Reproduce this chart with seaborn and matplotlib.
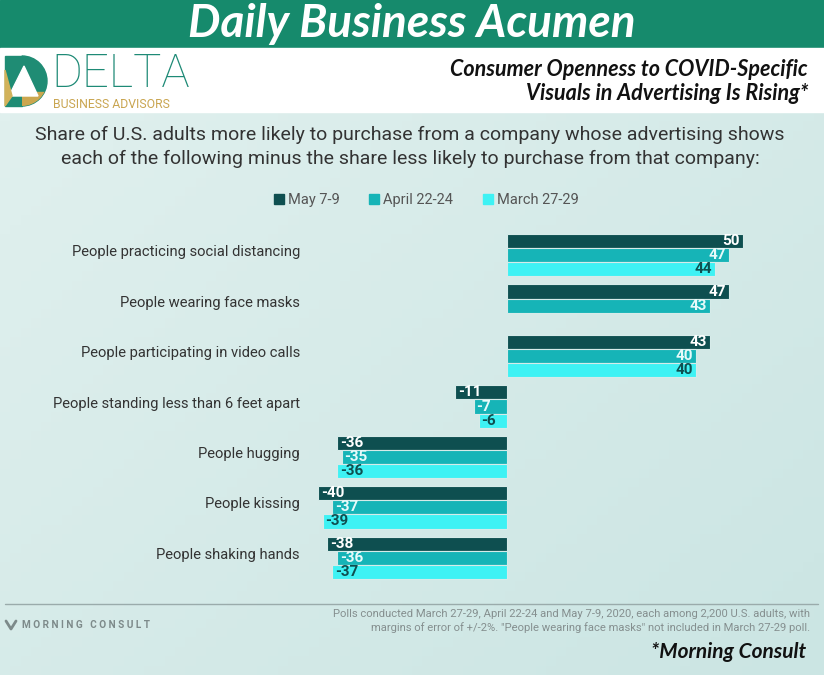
import matplotlib
matplotlib.use("Agg")
import matplotlib.pyplot as plt
import matplotlib.transforms as mtransforms
import numpy as np
import pandas as pd
import seaborn as sns
from matplotlib.lines import Line2D
from matplotlib.patches import Polygon, Rectangle, Wedge

# data
categories = [
    "People practicing social distancing",
    "People wearing face masks",
    "People participating in video calls",
    "People standing less than 6 feet apart",
    "People hugging",
    "People kissing",
    "People shaking hands",
]
periods = ["May 7-9", "April 22-24", "March 27-29"]
may = [50, 47, 43, -11, -36, -40, -38]
april = [47, 43, 40, -7, -35, -37, -36]
march = [44, np.nan, 40, -6, -36, -39, -37]

colors = {"May 7-9": "#0e4f50", "April 22-24": "#16b4b7", "March 27-29": "#3ef2f4"}
label_colors = {"May 7-9": "white", "April 22-24": "#e6fafa", "March 27-29": "#0e4f50"}

rows = []
for period, vals in zip(periods, [may, april, march]):
    for cat, v in zip(categories, vals):
        rows.append({"category": cat, "period": period, "value": v})
df = pd.DataFrame(rows)

sns.set_theme(style="white")
plt.rcParams["font.family"] = ["Roboto", "DejaVu Sans"]

W, H = 824, 675
fig = plt.figure(figsize=(W / 100, H / 100), dpi=100)

# decoration layer in pixel coordinates
deco = fig.add_axes([0, 0, 1, 1], zorder=0)
deco.set_xlim(0, W)
deco.set_ylim(H, 0)
deco.axis("off")

# background gradient
gy, gx = np.mgrid[0:1:60j, 0:1:80j]
grad = 0.55 * gx + 0.45 * gy
bg = sns.blend_palette(["#e0f0ee", "#cbe5e3"], as_cmap=True)
deco.imshow(grad, cmap=bg, extent=[0, W, H, 112], aspect="auto", zorder=0)

# header bands
deco.add_patch(Rectangle((0, 0), W, 48, color="#168a6c", zorder=1))
deco.add_patch(Rectangle((0, 48), W, 64, color="white", zorder=1))
deco.text(W / 2, 24, "Daily Business Acumen", ha="center", va="center",
          color="white", fontsize=33, fontweight="bold", fontstyle="italic",
          family=["Lato", "DejaVu Sans"], zorder=2)

# logo
d_shape = Wedge((22, 81), 25, -90, 90, color="#1f8c74", zorder=2)
deco.add_patch(d_shape)
deco.add_patch(Rectangle((5, 56), 17, 50, color="#1f8c74", zorder=2))
deco.add_patch(Rectangle((5, 92), 42, 14, color="#cba74f", zorder=3,
                         clip_path=d_shape))
deco.add_patch(Polygon([(9, 96), (24, 66), (38, 96)], color="white", zorder=4))
deco.add_patch(Polygon([(5, 106), (5, 70), (12, 96)], color="#d2b25a", zorder=4))
deco.text(51, 87, "DELTA", ha="left", va="baseline", color="#1e8a76",
          fontsize=34, fontweight="light", family=["Roboto", "DejaVu Sans"], zorder=2)
deco.text(53, 104, "BUSINESS ADVISORS", ha="left", va="center", color="#c9a550",
          fontsize=8.8, family=["Roboto", "DejaVu Sans"], zorder=2)

deco.text(808, 70, "Consumer Openness to COVID-Specific", ha="right", va="center",
          fontsize=15.5, fontweight="bold", fontstyle="italic", color="#111111",
          family=["Lato", "DejaVu Sans"], zorder=2)
deco.text(808, 93, "Visuals in Advertising Is Rising*", ha="right", va="center",
          fontsize=15.5, fontweight="bold", fontstyle="italic", color="#111111",
          family=["Lato", "DejaVu Sans"], zorder=2)

# subtitle
deco.text(W / 2 - 2, 135, "Share of U.S. adults more likely to purchase from a company whose advertising shows",
          ha="center", va="center", fontsize=14, color="#333333", zorder=2)
deco.text(W / 2 - 2, 159, "each of the following minus the share less likely to purchase from that company:",
          ha="center", va="center", fontsize=14, color="#333333", zorder=2)

# footer
deco.plot([5, 818], [604, 604], color="#9aabab", lw=1, zorder=2)
deco.plot([6, 11, 16], [621, 629, 621], color="#7d8a8a", lw=2, zorder=2)
deco.text(22, 625, "M O R N I N G   C O N S U L T", ha="left", va="center",
          fontsize=7.2, fontweight="bold", color="#7d8a8a", zorder=2)
deco.text(810, 614, "Polls conducted March 27-29, April 22-24 and May 7-9, 2020, each among 2,200 U.S. adults, with",
          ha="right", va="center", fontsize=8.1, color="#858f8f", zorder=2)
deco.text(810, 628, "margins of error of +/-2%. \"People wearing face masks\" not included in March 27-29 poll.",
          ha="right", va="center", fontsize=8.1, color="#858f8f", zorder=2)
deco.text(806, 652, "*Morning Consult", ha="right", va="center", fontsize=15,
          fontweight="bold", fontstyle="italic", color="#111111",
          family=["Lato", "DejaVu Sans"], zorder=2)

# chart
ax = fig.add_axes([310 / W, 1 - 583 / H, 490 / W, 353 / H], zorder=1)
ax.patch.set_alpha(0)
sns.barplot(data=df, y="category", x="value", hue="period", order=categories,
            hue_order=periods, palette=colors, orient="h", width=0.84,
            saturation=1, edgecolor="#d6ebe9", linewidth=0.8, legend=False, ax=ax)

ax.set_xlim(-41.7, 62.1)
ax.set_ylim(6.5, -0.5)
ax.set_xlabel("")
ax.set_ylabel("")
ax.set_xticks([])
ax.set_yticks([])
sns.despine(ax=ax, left=True, bottom=True)

# category labels, right-aligned just left of the axes, nudged up a little
lab_trans = mtransforms.blended_transform_factory(ax.transAxes, ax.transData)
lab_trans = lab_trans + mtransforms.ScaledTranslation(-10 / 100, 3 / 100, fig.dpi_scale_trans)
for i, cat in enumerate(categories):
    ax.text(0, i, cat, transform=lab_trans, ha="right", va="center",
            fontsize=10.6, color="#333333")

for period, container in zip(periods, ax.containers):
    for bar in container:
        w = bar.get_width()
        if np.isnan(w):
            continue
        xe = bar.get_x() + w
        yc = bar.get_y() + bar.get_height() / 2
        positive = w > 0
        ax.annotate(f"{int(round(w))}", (xe, yc), xytext=(-2 if positive else 2, 0),
                    textcoords="offset points", ha="right" if positive else "left",
                    va="center", fontsize=11, fontweight="bold",
                    color=label_colors[period])

handles = [Line2D([], [], marker="s", linestyle="", markersize=7.5,
                  markerfacecolor=colors[p], markeredgecolor=colors[p]) for p in periods]
fig.legend(handles, periods, loc="center", bbox_to_anchor=(425 / W, 1 - 200 / H),
           ncol=3, frameon=False, fontsize=10.5, labelcolor="#555555",
           handletextpad=0.1, columnspacing=1.9, handlelength=1)

fig.savefig("out.png", dpi=100)
